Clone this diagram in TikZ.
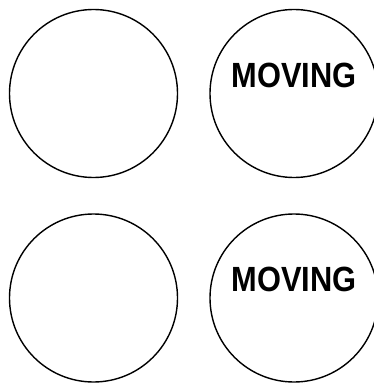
\documentclass[tikz,border=0pt]{standalone}
\usepackage{fontspec}
\setmainfont{Liberation Sans}
\begin{document}
\begin{tikzpicture}[x=1pt,y=-1pt,
  ring/.style={draw=black,line width=1.4pt,circle,minimum size=168pt,inner sep=0pt},
  lbl/.style={inner sep=0pt,font=\bfseries\fontsize{35}{35}\selectfont}]
\useasboundingbox (0,0) rectangle (374,385);
\node[ring] (tl) at (93.5,93.5) {};
\node[ring] (tr) at (294,93.5) {};
\node[ring] (bl) at (93.5,298) {};
\node[ring] (br) at (294,298) {};
\node[lbl] (t1) at (294,75) {\scalebox{0.88}[1]{MOVING}};
\node[lbl] (t2) at (294,279) {\scalebox{0.88}[1]{MOVING}};
\end{tikzpicture}
\end{document}
